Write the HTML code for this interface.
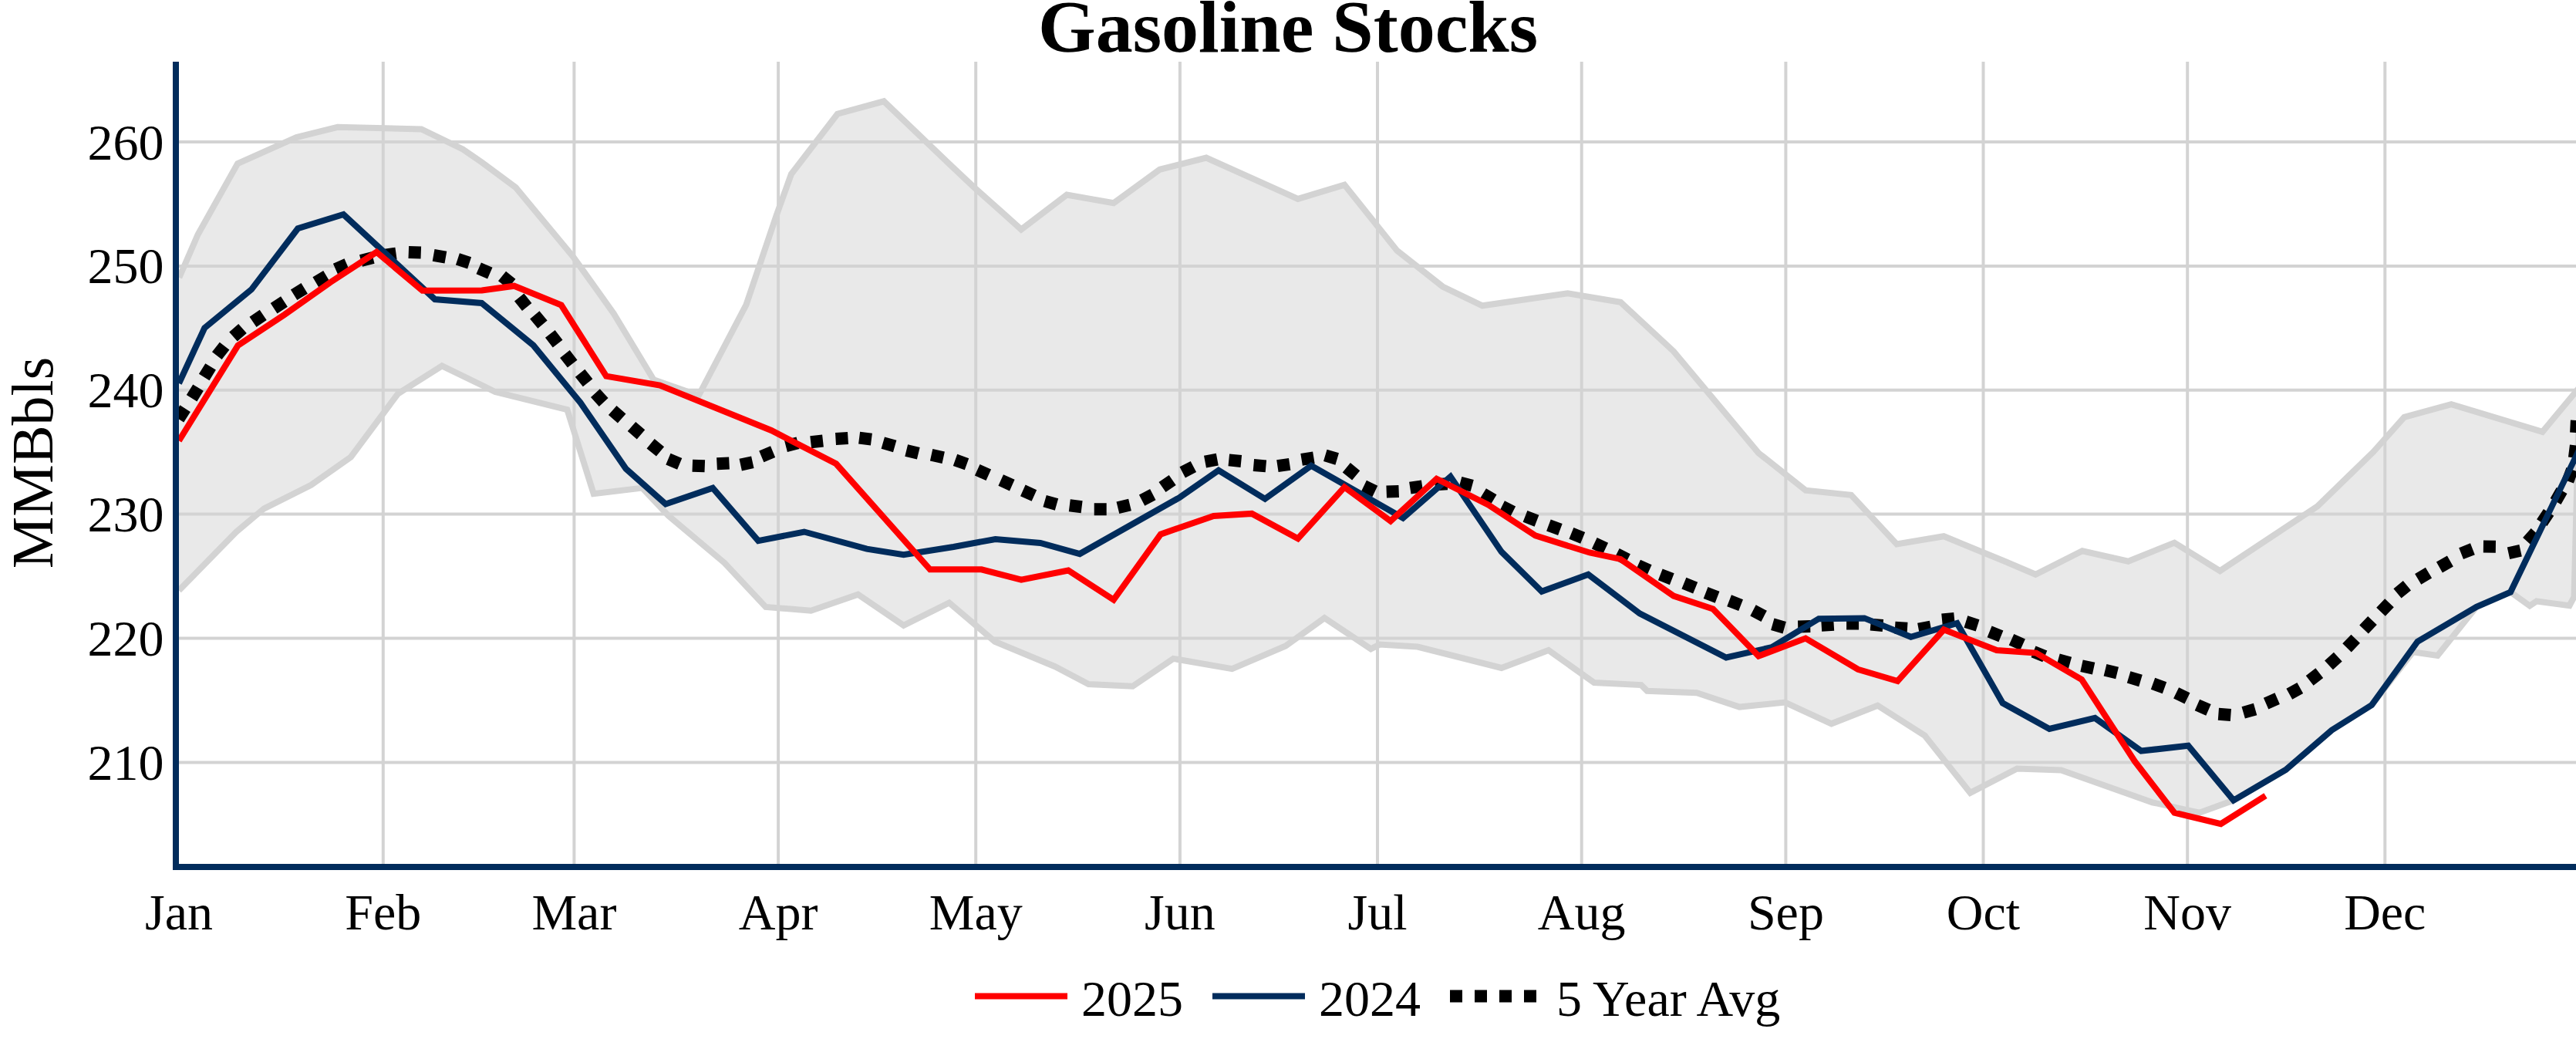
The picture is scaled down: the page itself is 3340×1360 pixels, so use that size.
<!DOCTYPE html>
<html><head><meta charset="utf-8"><title>Gasoline Stocks</title>
<style>html,body{margin:0;padding:0;background:#fff;overflow:hidden}svg{display:block}text{font-family:"Liberation Serif","Times New Roman",serif}</style>
</head><body>
<svg width="3340" height="1360" viewBox="0 0 3340 1360">
<rect width="3340" height="1360" fill="#fff"/>
<defs><clipPath id="pa"><rect x="232" y="80" width="3116" height="1040"/></clipPath></defs>
<g stroke="#d3d3d3" stroke-width="4" fill="none">
<path d="M232,988.4H3340"/>
<path d="M232,827.5H3340"/>
<path d="M232,666.6H3340"/>
<path d="M232,505.8H3340"/>
<path d="M232,344.9H3340"/>
<path d="M232,184.0H3340"/>
<path d="M496.8,80V1120"/>
<path d="M744.4,80V1120"/>
<path d="M1009.1,80V1120"/>
<path d="M1265.2,80V1120"/>
<path d="M1529.9,80V1120"/>
<path d="M1786.0,80V1120"/>
<path d="M2050.7,80V1120"/>
<path d="M2315.4,80V1120"/>
<path d="M2571.5,80V1120"/>
<path d="M2836.2,80V1120"/>
<path d="M3092.3,80V1120"/>
</g>
<g clip-path="url(#pa)">
<polygon points="232.3,360.0 256.6,304.0 308.1,212.0 384.3,178.0 437.7,164.8 546.4,167.5 600.0,193.4 624.8,210.5 668.6,243.0 743.0,332.6 795.7,406.4 847.5,492.3 905.9,512.7 967.5,395.1 1006.4,280.0 1025.9,225.8 1085.8,147.7 1146.0,131.3 1228.8,210.6 1263.1,243.0 1297.4,273.5 1324.1,297.5 1383.2,252.5 1443.9,263.3 1503.7,219.8 1564.0,204.5 1682.9,257.9 1743.2,239.6 1811.4,325.0 1870.5,371.5 1922.0,396.3 2032.6,380.3 2101.2,391.7 2169.9,455.4 2280.1,587.3 2341.1,635.7 2400.2,641.8 2459.3,705.5 2520.3,695.2 2600.0,728.0 2639.3,744.8 2699.9,714.3 2759.4,727.7 2819.3,703.6 2878.4,740.2 3004.8,656.4 3077.3,585.8 3117.3,540.8 3178.3,524.1 3296.5,559.9 3348.0,498.0 3343.0,560.0 3337.5,774.0 3331.5,785.2 3288.9,779.5 3280.0,785.5 3255.1,767.6 3210.9,786.8 3160.5,850.0 3128.5,845.4 3075.1,914.1 3023.2,946.7 2963.7,998.0 2896.0,1037.6 2851.7,1053.7 2790.7,1040.3 2672.4,998.4 2615.3,996.5 2554.6,1027.9 2495.5,953.6 2434.5,914.7 2374.6,938.3 2314.4,910.5 2255.3,916.6 2200.0,898.3 2135.6,895.7 2127.9,888.1 2066.9,885.0 2007.8,843.1 1946.8,866.0 1838.1,838.5 1788.9,835.6 1777.5,841.3 1717.3,801.2 1666.9,837.5 1597.5,867.2 1521.3,853.9 1468.6,889.7 1411.4,887.0 1368.0,864.2 1289.8,831.7 1230.7,781.4 1171.6,810.8 1112.5,770.7 1051.5,791.7 992.8,787.0 939.4,729.8 866.9,668.8 832.6,632.6 769.7,640.2 735.4,531.0 641.9,508.0 628.0,501.0 573.1,474.3 515.9,510.5 454.9,592.5 403.4,628.8 342.4,659.3 306.2,689.8 232.0,765.5" fill="rgba(211,211,211,0.5)"/>
<polyline points="232.3,360.0 256.6,304.0 308.1,212.0 384.3,178.0 437.7,164.8 546.4,167.5 600.0,193.4 624.8,210.5 668.6,243.0 743.0,332.6 795.7,406.4 847.5,492.3 905.9,512.7 967.5,395.1 1006.4,280.0 1025.9,225.8 1085.8,147.7 1146.0,131.3 1228.8,210.6 1263.1,243.0 1297.4,273.5 1324.1,297.5 1383.2,252.5 1443.9,263.3 1503.7,219.8 1564.0,204.5 1682.9,257.9 1743.2,239.6 1811.4,325.0 1870.5,371.5 1922.0,396.3 2032.6,380.3 2101.2,391.7 2169.9,455.4 2280.1,587.3 2341.1,635.7 2400.2,641.8 2459.3,705.5 2520.3,695.2 2600.0,728.0 2639.3,744.8 2699.9,714.3 2759.4,727.7 2819.3,703.6 2878.4,740.2 3004.8,656.4 3077.3,585.8 3117.3,540.8 3178.3,524.1 3296.5,559.9 3348.0,498.0" fill="none" stroke="#d3d3d3" stroke-width="8"/>
<polyline points="232.0,765.5 306.2,689.8 342.4,659.3 403.4,628.8 454.9,592.5 515.9,510.5 573.1,474.3 628.0,501.0 641.9,508.0 735.4,531.0 769.7,640.2 832.6,632.6 866.9,668.8 939.4,729.8 992.8,787.0 1051.5,791.7 1112.5,770.7 1171.6,810.8 1230.7,781.4 1289.8,831.7 1368.0,864.2 1411.4,887.0 1468.6,889.7 1521.3,853.9 1597.5,867.2 1666.9,837.5 1717.3,801.2 1777.5,841.3 1788.9,835.6 1838.1,838.5 1946.8,866.0 2007.8,843.1 2066.9,885.0 2127.9,888.1 2135.6,895.7 2200.0,898.3 2255.3,916.6 2314.4,910.5 2374.6,938.3 2434.5,914.7 2495.5,953.6 2554.6,1027.9 2615.3,996.5 2672.4,998.4 2790.7,1040.3 2851.7,1053.7 2896.0,1037.6 2963.7,998.0 3023.2,946.7 3075.1,914.1 3128.5,845.4 3160.5,850.0 3210.9,786.8 3255.1,767.6 3280.0,785.5 3288.9,779.5 3331.5,785.2 3337.5,774.0 3343.0,560.0" fill="none" stroke="#d3d3d3" stroke-width="8"/>
<path d="M231.5,543.2L240.1,529.6M248.6,516.2L257.0,502.6M264.7,489.0L273.1,475.4M281.3,461.2L291.1,448.6M302.5,436.6L314.5,426.0M328.0,417.3L341.2,408.3M355.1,399.8L368.5,391.0M381.1,382.3L394.7,373.9M409.5,366.1L423.3,357.9M435.1,349.0L449.7,342.6M468.0,337.9L483.6,333.9M497.7,330.8L513.5,328.6M529.8,327.0L545.8,327.6M562.1,330.8L577.9,333.6M593.4,335.9L608.6,340.9M620.7,347.8L635.3,354.2M651.0,358.0L663.4,368.0M673.2,385.5L683.2,397.9M693.3,408.4L703.5,420.6M713.3,432.9L723.1,445.7M732.4,459.0L742.2,471.6M752.1,483.7L762.1,496.3M771.9,509.7L782.7,521.5M794.2,531.9L806.2,542.5M819.0,553.0L831.0,563.4M843.6,575.2L856.0,585.4M866.4,595.1L881.2,601.3M897.8,603.7L913.8,604.3M929.5,601.3L945.5,600.5M960.2,602.6L975.8,599.2M987.3,591.8L1002.1,585.6M1018.9,578.3L1034.5,574.3M1051.2,573.3L1067.0,571.5M1083.5,569.1L1099.5,568.1M1114.1,567.6L1129.9,569.6M1144.8,574.1L1160.2,578.5M1175.2,583.9L1190.8,587.7M1207.6,589.8L1223.2,593.2M1238.5,596.4L1253.5,601.8M1267.2,609.2L1281.8,615.8M1297.7,622.5L1312.3,629.1M1326.3,635.9L1340.9,642.5M1354.6,649.6L1370.0,654.0M1386.8,655.3L1402.6,657.3M1418.7,660.2L1434.7,660.2M1449.4,658.2L1465.0,654.4M1480.6,648.6L1494.8,641.2M1507.0,631.5L1520.2,622.5M1533.2,612.4L1547.4,605.0M1562.5,598.7L1578.3,595.7M1593.3,596.4L1609.3,598.0M1625.4,603.0L1641.4,604.4M1656.4,604.2L1672.2,601.8M1687.6,595.9L1703.4,593.3M1718.3,590.4L1733.7,595.0M1745.8,606.2L1758.2,616.4M1768.4,630.0L1782.8,637.0M1797.7,637.5L1813.7,636.9M1828.3,632.7L1844.1,630.3M1860.6,628.2L1876.6,627.2M1893.3,625.6L1908.7,629.8M1922.8,640.0L1936.4,648.2M1947.3,656.5L1961.5,663.7M1977.5,669.4L1992.5,675.2M2007.9,680.9L2022.9,686.5M2037.4,691.4L2052.2,697.4M2067.3,704.3L2081.7,711.1M2096.1,718.2L2110.3,725.4M2123.7,733.0L2138.3,739.6M2152.8,744.9L2167.8,750.7M2183.4,756.2L2198.2,762.2M2211.6,768.5L2226.6,774.3M2242.1,778.8L2257.1,784.6M2273.0,791.4L2287.2,798.8M2298.3,809.3L2313.7,813.7M2331.2,812.5L2347.2,812.1M2361.7,810.8L2377.7,809.8M2394.1,808.4L2410.1,808.4M2425.4,809.6L2441.4,811.0M2457.0,813.7L2473.0,814.7M2487.6,815.7L2503.4,812.7M2518.0,803.5L2534.0,801.9M2548.9,806.0L2564.1,810.8M2579.6,818.8L2594.4,824.8M2608.0,829.2L2622.6,835.8M2636.5,844.8L2651.3,850.8M2668.6,855.2L2684.0,859.4M2699.0,863.2L2714.6,866.6M2729.5,868.8L2745.1,872.6M2760.1,877.9L2775.5,882.5M2791.5,886.3L2806.5,891.7M2821.6,898.4L2836.0,905.4M2848.9,914.0L2863.5,920.4M2876.4,925.7L2892.4,926.9M2908.7,923.9L2924.1,919.5M2938.1,912.1L2952.7,905.7M2968.3,899.7L2982.3,891.9M2994.7,882.4L3007.3,872.6M3019.5,862.4L3031.3,851.6M3043.0,839.9L3054.2,828.3M3065.0,816.1L3076.0,804.5M3087.0,793.3L3098.0,781.7M3108.5,769.4L3120.9,759.2M3135.2,750.9L3149.0,742.7M3162.9,735.5L3176.9,727.5M3191.1,717.6L3205.9,711.8M3219.9,708.5L3235.9,708.7M3252.5,717.2L3268.1,713.8M3277.1,702.4L3287.7,690.4M3295.8,677.7L3304.6,664.3M3313.6,649.9L3321.6,636.1M3329.4,623.8L3335.0,608.8M3337.9,593.4L3339.9,577.6M3340.1,561.0L3340.9,545.0" fill="none" stroke="#000" stroke-width="16"/>
<polyline points="232.0,497.0 265.2,425.2 326.0,375.3 386.2,296.3 445.3,278.0 563.8,388.0 624.5,392.9 691.5,447.6 752.5,522.0 811.6,607.8 863.1,653.5 924.1,632.6 983.2,701.2 1042.7,689.5 1123.9,711.6 1171.6,719.3 1236.4,709.0 1290.6,699.0 1348.9,704.0 1400.0,718.1 1529.6,644.9 1580.0,609.8 1640.2,646.8 1700.1,603.7 1819.1,671.5 1880.7,618.0 1946.8,715.4 1999.0,766.8 2059.3,744.7 2126.0,795.4 2238.1,852.5 2297.2,839.2 2358.2,802.2 2417.3,801.4 2477.6,825.8 2537.5,807.9 2596.6,911.6 2657.2,945.0 2716.3,930.9 2776.2,973.6 2837.2,966.8 2896.0,1037.6 2963.7,998.0 3023.2,946.7 3075.1,914.1 3134.6,831.7 3210.9,786.8 3255.1,767.6 3348.0,575.0" fill="none" stroke="#012c5c" stroke-width="8"/>
<polyline points="232.0,571.5 308.5,447.8 368.6,408.1 428.4,366.0 488.2,326.8 547.7,376.8 624.8,376.4 666.7,370.7 727.7,395.5 786.0,487.6 855.6,499.5 1000.0,558.0 1084.1,601.3 1205.9,738.3 1272.6,738.3 1324.1,751.7 1385.1,739.5 1443.9,777.6 1504.9,692.6 1573.5,668.9 1623.1,665.9 1682.9,698.3 1743.2,631.6 1803.0,675.5 1862.7,620.7 1929.6,654.4 1990.7,694.4 2061.2,716.5 2101.2,724.9 2169.9,772.6 2221.0,789.5 2280.1,850.6 2341.1,827.6 2409.0,867.8 2460.4,883.0 2520.3,816.3 2588.9,843.0 2640.0,846.6 2699.1,881.0 2767.8,987.0 2819.3,1053.7 2879.5,1068.2 2937.5,1031.6" fill="none" stroke="#ff0000" stroke-width="8"/>
</g>
<rect x="224" y="80" width="8" height="1048" fill="#012c5c"/>
<rect x="224" y="1120" width="3116" height="8" fill="#012c5c"/>
<g font-size="66" text-anchor="end" fill="#000">
<text x="212.5" y="1010.9">210</text>
<text x="212.5" y="850.0">220</text>
<text x="212.5" y="689.1">230</text>
<text x="212.5" y="528.3">240</text>
<text x="212.5" y="367.4">250</text>
<text x="212.5" y="206.5">260</text>
</g>
<g font-size="66" text-anchor="middle" fill="#000">
<text x="232.1" y="1205">Jan</text>
<text x="496.8" y="1205">Feb</text>
<text x="744.4" y="1205">Mar</text>
<text x="1009.1" y="1205">Apr</text>
<text x="1265.2" y="1205">May</text>
<text x="1529.9" y="1205">Jun</text>
<text x="1786.0" y="1205">Jul</text>
<text x="2050.7" y="1205">Aug</text>
<text x="2315.4" y="1205">Sep</text>
<text x="2571.5" y="1205">Oct</text>
<text x="2836.2" y="1205">Nov</text>
<text x="3092.3" y="1205">Dec</text>
</g>
<text x="1670" y="66.6" font-size="96" font-weight="bold" text-anchor="middle">Gasoline Stocks</text>
<text transform="translate(67.7,600) rotate(-90)" font-size="76" text-anchor="middle">MMBbls</text>
<path d="M1264,1291.5H1384" stroke="#ff0000" stroke-width="8"/>
<text x="1402" y="1317.3" font-size="66">2025</text>
<path d="M1572,1291.5H1692" stroke="#012c5c" stroke-width="8"/>
<text x="1710" y="1317.3" font-size="66">2024</text>
<path d="M1880,1291.5H2000" stroke="#000" stroke-width="16" stroke-dasharray="16 16"/>
<text x="2018" y="1317.3" font-size="66">5 Year Avg</text>
</svg></body></html>
